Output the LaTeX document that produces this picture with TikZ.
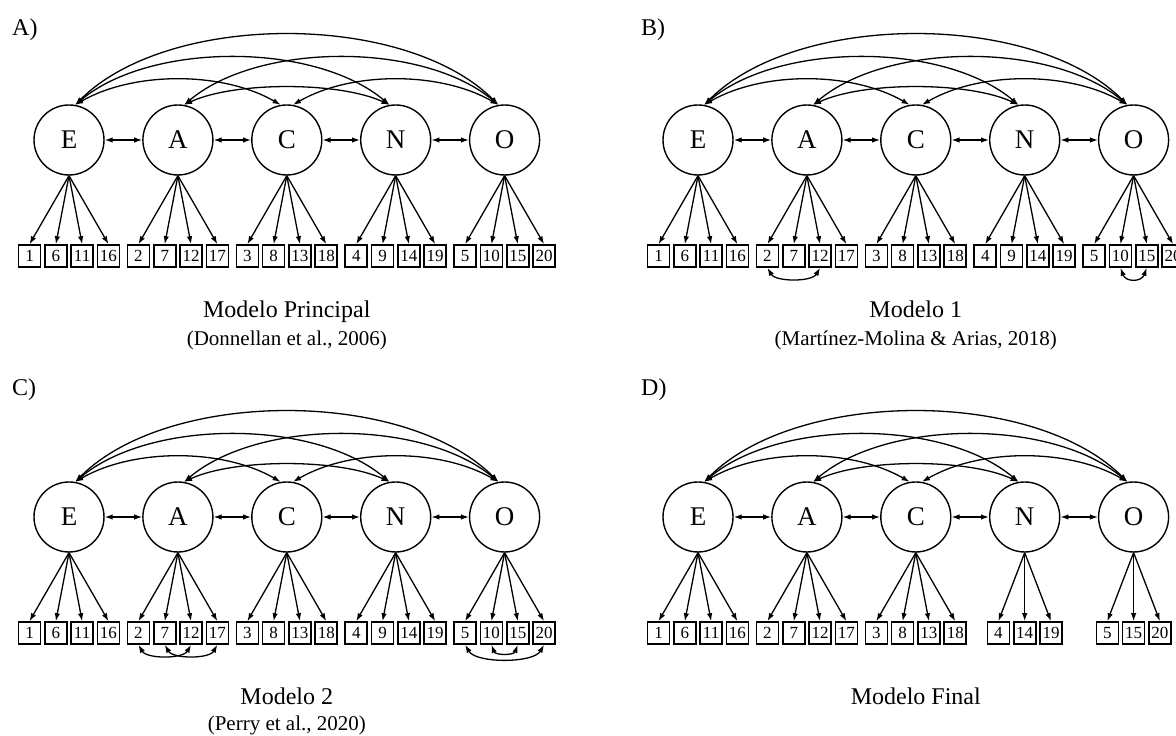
\documentclass[tikz,border=0pt]{standalone}
\usepackage{fontspec}
\setmainfont{Liberation Serif}
\usetikzlibrary{arrows.meta}

\tikzset{
  x=1pt, y=1pt,
  tipa/.tip={Latex[length=8pt,width=5.5pt]},
  latent/.style={circle, draw, line width=1.4pt, minimum size=70pt, inner sep=0pt,
    font=\fontsize{27}{27}\selectfont},
  item/.style={rectangle, draw, line width=1.6pt, minimum width=22pt, minimum height=22pt,
    inner sep=0pt, font=\fontsize{17}{17}\selectfont},
  loadarr/.style={line width=1.3pt, -tipa},
  covarr/.style={line width=1.3pt, tipa-tipa},
  panellabel/.style={anchor=base west, inner sep=0pt, font=\fontsize{24}{24}\selectfont},
  captionmain/.style={anchor=base, inner sep=0pt, font=\fontsize{24}{24}\selectfont},
  captionsub/.style={anchor=base, inner sep=0pt, font=\fontsize{21}{21}\selectfont},
}

% five correlated factors E, A, C, N, O
\newcommand\factorrow[1]{%
  \node[latent] (#1E) at (69,0) {E};
  \node[latent] (#1A) at (177.9,0) {A};
  \node[latent] (#1C) at (286.8,0) {C};
  \node[latent] (#1N) at (395.7,0) {N};
  \node[latent] (#1O) at (504.6,0) {O};
  \draw[covarr] (#1E) -- (#1A);
  \draw[covarr] (#1A) -- (#1C);
  \draw[covarr] (#1C) -- (#1N);
  \draw[covarr] (#1N) -- (#1O);
  \draw[covarr] (#1E.80) to[out=45,in=135,looseness=0.8] (#1O.100);
  \draw[covarr] (#1E.80) to[out=40,in=140,looseness=0.8] (#1N.100);
  \draw[covarr] (#1A.80) to[out=40,in=140,looseness=0.8] (#1O.100);
  \draw[covarr] (#1E.80) to[out=30,in=150,looseness=0.84] (#1C.100);
  \draw[covarr] (#1C.80) to[out=30,in=150,looseness=0.84] (#1O.100);
  \draw[covarr] (#1A.80) to[out=25,in=155,looseness=0.69] (#1N.100);
}

% indicators of one factor: prefix, factor, x of factor, list item/offset
\newcommand\itemgroup[4]{%
  \foreach \n/\o in {#4}{
    \node[item] (#1i\n) at ({#3+(\o)},-116) {\n};
    \draw[loadarr] (#1#2.south) -- (#1i\n.north);
  }
}

\newcommand\firstthree[1]{%
  \itemgroup{#1}{E}{69}{1/-39.45,6/-13.15,11/13.15,16/39.45}
  \itemgroup{#1}{A}{177.9}{2/-39.45,7/-13.15,12/13.15,17/39.45}
  \itemgroup{#1}{C}{286.8}{3/-39.45,8/-13.15,13/13.15,18/39.45}
}

\newcommand\fullgroups[1]{%
  \firstthree{#1}
  \itemgroup{#1}{N}{395.7}{4/-39.45,9/-13.15,14/13.15,19/39.45}
  \itemgroup{#1}{O}{504.6}{5/-39.45,10/-13.15,15/13.15,20/39.45}
}

\begin{document}
\begin{tikzpicture}
\useasboundingbox (0,0) rectangle (1176,736);
\clip (0,0) rectangle (1176,736);

% A) main model
\begin{scope}[shift={(0,596)}]
  \node[panellabel] (labA) at (12,104) {A)};
  \factorrow{a}
  \fullgroups{a}
  \node[captionmain] (capA) at (286.8,-177.5) {Modelo Principal};
  \node[captionsub] (subA) at (286.8,-206) {(Donnellan et al., 2006)};
\end{scope}

% B) model 1
\begin{scope}[shift={(629,596)}]
  \node[panellabel] (labB) at (12,104) {B)};
  \factorrow{b}
  \fullgroups{b}
  \draw[covarr] (bi2.south) to[out=-60,in=-120,looseness=0.8] (bi12.south);
  \draw[covarr] (bi10.south) to[out=-70,in=-110,looseness=1.5] (bi15.south);
  \node[captionmain] (capB) at (286.8,-177.5) {Modelo 1};
  \node[captionsub] (subB) at (286.8,-206) {(Martínez-Molina \& Arias, 2018)};
\end{scope}

% C) model 2
\begin{scope}[shift={(0,219)}]
  \node[panellabel] (labC) at (12,121) {C)};
  \factorrow{c}
  \fullgroups{c}
  \draw[covarr] (ci2.south) to[out=-60,in=-120,looseness=0.8] (ci12.south);
  \draw[covarr] (ci7.south) to[out=-60,in=-120,looseness=0.8] (ci17.south);
  \draw[covarr] (ci5.south) to[out=-60,in=-120,looseness=0.7] (ci20.south);
  \draw[covarr] (ci10.south) to[out=-70,in=-110,looseness=1.1] (ci15.south);
  \node[captionmain] (capC) at (286.8,-188) {Modelo 2};
  \node[captionsub] (subC) at (286.8,-214) {(Perry et al., 2020)};
\end{scope}

% D) final model
\begin{scope}[shift={(629,219)}]
  \node[panellabel] (labD) at (12,121) {D)};
  \factorrow{d}
  \firstthree{d}
  \itemgroup{d}{N}{395.7}{4/-26.3,14/0,19/26.3}
  \itemgroup{d}{O}{504.6}{5/-26.3,15/0,20/26.3}
  \node[captionmain] (capD) at (286.8,-188) {Modelo Final};
\end{scope}
\end{tikzpicture}
\end{document}
